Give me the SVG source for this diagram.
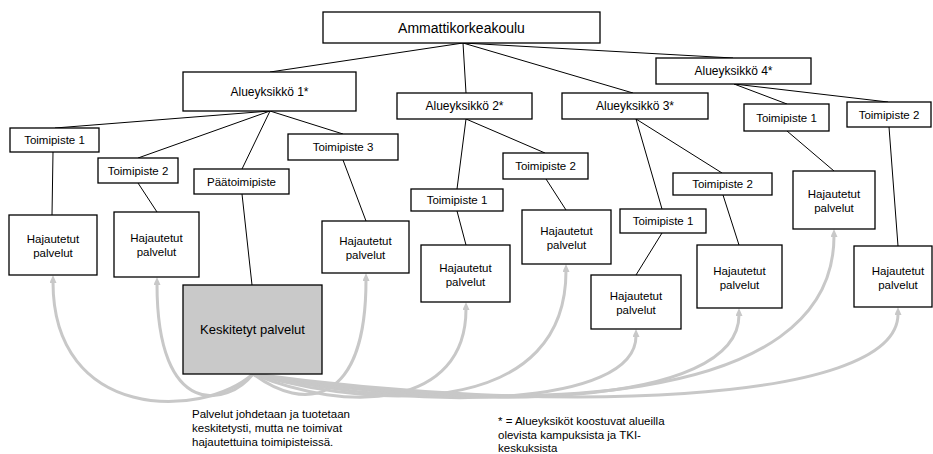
<svg xmlns="http://www.w3.org/2000/svg" width="933" height="454" viewBox="0 0 933 454">
  <style>
    .box { fill: #ffffff; stroke: #000000; stroke-width: 1.3; }
    .core { fill: #c9c9c9; stroke: #000000; stroke-width: 1.3; }
    .t { font-family: "Liberation Sans", Arial, sans-serif; fill: #000000; text-anchor: middle; }
    .t14 { font-size: 14px; }
    .t13 { font-size: 13px; }
    .t12 { font-size: 12px; }
    .t11 { font-size: 11.5px; }
    .note { font-family: "Liberation Sans", Arial, sans-serif; font-size: 11.5px; fill: #000000; }
    .link { stroke: #000000; stroke-width: 1; fill: none; }
    .flow { stroke: #c8c8c8; stroke-width: 3; fill: none; marker-end: url(#ah); }
  </style>
  <defs>
    <marker id="ah" markerUnits="userSpaceOnUse" markerWidth="8" markerHeight="7" viewBox="0 0 8 7" refX="1" refY="3.5" orient="auto">
      <path d="M0,0 L8,3.5 L0,7 z" fill="#c8c8c8"/>
    </marker>
  </defs>

  <rect width="933" height="454" fill="#ffffff"/>

  <!-- hierarchy lines -->
  <g id="connectors">
    <line class="link" x1="463" y1="43" x2="270" y2="72"/>
    <line class="link" x1="463" y1="43" x2="466" y2="93"/>
    <line class="link" x1="463" y1="43" x2="633" y2="93"/>
    <line class="link" x1="463" y1="43" x2="733" y2="58"/>

    <line class="link" x1="270" y1="111" x2="55" y2="128"/>
    <line class="link" x1="270" y1="111" x2="138" y2="158"/>
    <line class="link" x1="270" y1="111" x2="242" y2="169"/>
    <line class="link" x1="270" y1="111" x2="343" y2="134"/>
    <line class="link" x1="53" y1="152" x2="52" y2="215"/>
    <line class="link" x1="138" y1="183" x2="157" y2="212"/>
    <line class="link" x1="242" y1="194" x2="252" y2="285"/>
    <line class="link" x1="343" y1="160" x2="366" y2="221"/>

    <line class="link" x1="466" y1="119" x2="457" y2="189"/>
    <line class="link" x1="466" y1="119" x2="545" y2="153"/>
    <line class="link" x1="457" y1="211" x2="466" y2="245"/>
    <line class="link" x1="546" y1="179" x2="566" y2="210"/>

    <line class="link" x1="636" y1="119" x2="662" y2="209"/>
    <line class="link" x1="636" y1="119" x2="722" y2="173"/>
    <line class="link" x1="662" y1="233" x2="636" y2="275"/>
    <line class="link" x1="723" y1="195" x2="739" y2="245"/>

    <line class="link" x1="734" y1="84" x2="787" y2="104"/>
    <line class="link" x1="734" y1="84" x2="888" y2="102"/>
    <line class="link" x1="787" y1="131" x2="834" y2="171"/>
    <line class="link" x1="889" y1="127" x2="898" y2="246"/>
  </g>

  <!-- service delivery arcs from the central unit -->
  <g id="flows">
    <path class="flow" d="M253,374 C200,420 53,420 53,282"/>
    <path class="flow" d="M253,374 C228,406 157,421 157,284"/>
    <path class="flow" d="M253,374 C304,412 366,406 366,280"/>
    <path class="flow" d="M253,374 C349,414 466,408 466,309"/>
    <path class="flow" d="M253,374 C394,414 566,410 566,271"/>
    <path class="flow" d="M253,374 C426,413 636,406 636,336"/>
    <path class="flow" d="M253,374 C472,414 739,407 739,315"/>
    <path class="flow" d="M253,374 C514,416 834,410 834,236"/>
    <path class="flow" d="M253,374 C543,414 898,406 898,314"/>
  </g>

  <g id="amk">
    <rect class="box" x="323" y="12" width="277" height="31"/>
    <text class="t t14" x="461.5" y="33">Ammattikorkeakoulu</text>
  </g>

  <g id="alue1">
    <rect class="box" x="183" y="72" width="173" height="39"/>
    <text class="t t12" x="269.5" y="96">Alueyksikkö 1*</text>
  </g>
  <g id="alue2">
    <rect class="box" x="397" y="93" width="135" height="26"/>
    <text class="t t12" x="464.5" y="110">Alueyksikkö 2*</text>
  </g>
  <g id="alue3">
    <rect class="box" x="562" y="93" width="146" height="26"/>
    <text class="t t12" x="635" y="110">Alueyksikkö 3*</text>
  </g>
  <g id="alue4">
    <rect class="box" x="656" y="58" width="155" height="26"/>
    <text class="t t12" x="733.5" y="75">Alueyksikkö 4*</text>
  </g>

  <g id="a1-toimipiste1">
    <rect class="box" x="10" y="128" width="89" height="24"/>
    <text class="t t11" x="54.5" y="144">Toimipiste 1</text>
  </g>
  <g id="a1-toimipiste2">
    <rect class="box" x="98" y="158" width="80" height="25"/>
    <text class="t t11" x="138" y="174.5">Toimipiste 2</text>
  </g>
  <g id="a1-paatoimipiste">
    <rect class="box" x="194" y="169" width="95" height="25"/>
    <text class="t t11" x="241.5" y="185.5">Päätoimipiste</text>
  </g>
  <g id="a1-toimipiste3">
    <rect class="box" x="288" y="134" width="110" height="26"/>
    <text class="t t11" x="343" y="151">Toimipiste 3</text>
  </g>
  <g id="a2-toimipiste1">
    <rect class="box" x="411" y="189" width="92" height="22"/>
    <text class="t t11" x="457" y="204">Toimipiste 1</text>
  </g>
  <g id="a2-toimipiste2">
    <rect class="box" x="503" y="153" width="85" height="26"/>
    <text class="t t11" x="545.5" y="170">Toimipiste 2</text>
  </g>
  <g id="a3-toimipiste1">
    <rect class="box" x="620" y="209" width="86" height="24"/>
    <text class="t t11" x="663" y="225">Toimipiste 1</text>
  </g>
  <g id="a3-toimipiste2">
    <rect class="box" x="673" y="173" width="99" height="22"/>
    <text class="t t11" x="722.5" y="188">Toimipiste 2</text>
  </g>
  <g id="a4-toimipiste1">
    <rect class="box" x="744" y="104" width="85" height="27"/>
    <text class="t t11" x="786.5" y="121.5">Toimipiste 1</text>
  </g>
  <g id="a4-toimipiste2">
    <rect class="box" x="847" y="102" width="84" height="25"/>
    <text class="t t11" x="889" y="118.5">Toimipiste 2</text>
  </g>

  <g id="haj-a1-t1">
    <rect class="box" x="9" y="215" width="88" height="60"/>
    <text class="t t11" x="53" y="243">Hajautetut</text>
    <text class="t t11" x="53" y="257">palvelut</text>
  </g>
  <g id="haj-a1-t2">
    <rect class="box" x="114" y="212" width="85" height="65"/>
    <text class="t t11" x="156.5" y="242">Hajautetut</text>
    <text class="t t11" x="156.5" y="256">palvelut</text>
  </g>
  <g id="haj-a1-t3">
    <rect class="box" x="322" y="221" width="87" height="52"/>
    <text class="t t11" x="365.5" y="245">Hajautetut</text>
    <text class="t t11" x="365.5" y="259">palvelut</text>
  </g>
  <g id="haj-a2-t1">
    <rect class="box" x="421" y="245" width="89" height="57"/>
    <text class="t t11" x="465.5" y="271.5">Hajautetut</text>
    <text class="t t11" x="465.5" y="285.5">palvelut</text>
  </g>
  <g id="haj-a2-t2">
    <rect class="box" x="522" y="210" width="89" height="54"/>
    <text class="t t11" x="566.5" y="235">Hajautetut</text>
    <text class="t t11" x="566.5" y="249">palvelut</text>
  </g>
  <g id="haj-a3-t1">
    <rect class="box" x="591" y="275" width="90" height="54"/>
    <text class="t t11" x="636" y="300">Hajautetut</text>
    <text class="t t11" x="636" y="314">palvelut</text>
  </g>
  <g id="haj-a3-t2">
    <rect class="box" x="697" y="245" width="85" height="63"/>
    <text class="t t11" x="739.5" y="274.5">Hajautetut</text>
    <text class="t t11" x="739.5" y="288.5">palvelut</text>
  </g>
  <g id="haj-a4-t1">
    <rect class="box" x="793" y="171" width="82" height="58"/>
    <text class="t t11" x="834" y="198">Hajautetut</text>
    <text class="t t11" x="834" y="212">palvelut</text>
  </g>
  <g id="haj-a4-t2">
    <rect class="box" x="854" y="246" width="78" height="61"/>
    <text class="t t11" x="898" y="274.5">Hajautetut</text>
    <text class="t t11" x="898" y="288.5">palvelut</text>
  </g>

  <g id="keskitetyt">
    <rect class="core" x="183" y="285" width="139" height="89"/>
    <text class="t t13" x="252.5" y="334">Keskitetyt palvelut</text>
  </g>

  <g id="note-services">
    <text class="note" x="192" y="418">Palvelut johdetaan ja tuotetaan</text>
    <text class="note" x="192" y="432">keskitetysti, mutta ne toimivat</text>
    <text class="note" x="192" y="446">hajautettuina toimipisteissä.</text>
  </g>
  <g id="note-units">
    <text class="note" x="498" y="425">* = Alueyksiköt koostuvat alueilla</text>
    <text class="note" x="498" y="438.5">olevista kampuksista ja TKI-</text>
    <text class="note" x="498" y="451.5">keskuksista</text>
  </g>
</svg>
